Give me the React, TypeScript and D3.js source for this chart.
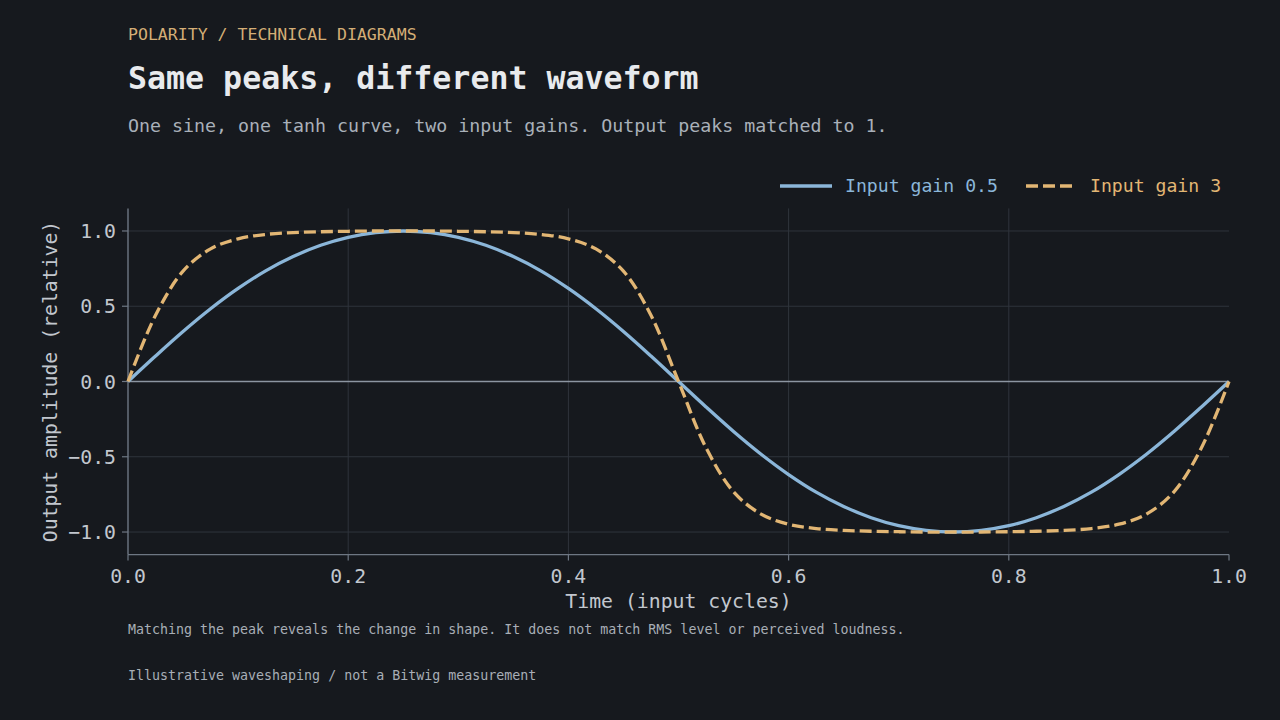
import React from "react";
import * as d3 from "d3";

// ---- data ----
const timeSteps = [
  0, 0.025, 0.05, 0.075, 0.1, 0.125, 0.15, 0.175, 0.2, 0.225, 0.25,
  0.275, 0.3, 0.325, 0.35, 0.375, 0.4, 0.425, 0.45, 0.475, 0.5,
  0.525, 0.55, 0.575, 0.6, 0.625, 0.65, 0.675, 0.7, 0.725, 0.75,
  0.775, 0.8, 0.825, 0.85, 0.875, 0.9, 0.925, 0.95, 0.975, 1.0,
];
const gainLowValues = [
  0, 0.169, 0.332, 0.483, 0.618, 0.735, 0.83, 0.905, 0.958, 0.989, 1.0,
  0.989, 0.958, 0.905, 0.83, 0.735, 0.618, 0.483, 0.332, 0.169, 0,
  -0.169, -0.332, -0.483, -0.618, -0.735, -0.83, -0.905, -0.958, -0.989, -1.0,
  -0.989, -0.958, -0.905, -0.83, -0.735, -0.618, -0.483, -0.332, -0.169, 0,
];
const gainHighValues = [
  0, 0.44, 0.733, 0.881, 0.948, 0.977, 0.989, 0.995, 0.998, 1.0, 1.0,
  1.0, 0.998, 0.995, 0.989, 0.977, 0.948, 0.881, 0.733, 0.44, 0,
  -0.44, -0.733, -0.881, -0.948, -0.977, -0.989, -0.995, -0.998, -1.0, -1.0,
  -1.0, -0.998, -0.995, -0.989, -0.977, -0.948, -0.881, -0.733, -0.44, 0,
];
const xTicks = [0, 0.2, 0.4, 0.6, 0.8, 1.0];
const yTicks = [1.0, 0.5, 0.0, -0.5, -1.0];
const seriesNames = ["Input gain 0.5", "Input gain 3"];

const MONO = "'DejaVu Sans Mono', monospace";
const BG = "#16191e";
const BLUE = "#8bb6d9";
const ORANGE = "#e2b674";
const GRID = "#2f343c";
const SPINE = "#6e7783";
const ZERO = "#8c95a1";
const TICKTXT = "#c2c7ce";

export default function App() {
  const left = 128, right = 1229, top = 208.4, bottom = 554.6;
  const x = d3.scaleLinear().domain([0, 1]).range([left, right]);
  const y = d3.scaleLinear().domain([-1.15, 1.15]).range([bottom, top]);

  const lineGen = d3
    .line<number>()
    .x((_, i) => x(timeSteps[i]))
    .y((v) => y(v))
    .curve(d3.curveCatmullRom.alpha(0.5));

  const fmt = (v: number) => (v < 0 ? "\u2212" + Math.abs(v).toFixed(1) : v.toFixed(1));

  return (
    <svg
      width={1280}
      height={720}
      style={{ position: "fixed", left: 0, top: 0, background: BG }}
      fontFamily={MONO}
    >
      <rect x={0} y={0} width={1280} height={720} fill={BG} />

      {/* header */}
      <text x={128} y={40} fontSize={16.55} fill="#d4ae76">
        POLARITY / TECHNICAL DIAGRAMS
      </text>
      <text x={128} y={89} fontSize={31.6} fontWeight="bold" fill="#e8eaed">
        Same peaks, different waveform
      </text>
      <text x={128} y={132} fontSize={18.3} fill="#a9b0b9">
        One sine, one tanh curve, two input gains. Output peaks matched to 1.
      </text>

      {/* legend */}
      <line x1={780} x2={832} y1={186} y2={186} stroke={BLUE} strokeWidth={3.3} />
      <text x={845} y={192} fontSize={18.15} fill={BLUE}>{seriesNames[0]}</text>
      <line x1={1026} x2={1076} y1={186} y2={186} stroke={ORANGE} strokeWidth={3.3} strokeDasharray="12 5" />
      <text x={1090} y={192} fontSize={18.15} fill={ORANGE}>{seriesNames[1]}</text>

      {/* grid */}
      {yTicks.filter((t) => t !== 0).map((t) => (
        <line key={"gy" + t} x1={left} x2={right} y1={y(t)} y2={y(t)} stroke={GRID} strokeWidth={1} />
      ))}
      {xTicks.filter((t) => t !== 0 && t !== 1).map((t) => (
        <line key={"gx" + t} x1={x(t)} x2={x(t)} y1={top} y2={bottom} stroke={GRID} strokeWidth={1} />
      ))}
      <line x1={left} x2={right} y1={y(0)} y2={y(0)} stroke={ZERO} strokeWidth={1.4} />

      {/* spines */}
      <line x1={left} x2={left} y1={top} y2={bottom} stroke={SPINE} strokeWidth={1.4} />
      <line x1={left} x2={right} y1={bottom} y2={bottom} stroke={SPINE} strokeWidth={1.4} />

      {/* y ticks */}
      {yTicks.map((t) => (
        <g key={"yt" + t}>
          <line x1={left - 6} x2={left} y1={y(t)} y2={y(t)} stroke={SPINE} strokeWidth={1.2} />
          <text x={left - 12} y={y(t) + 7.2} fontSize={19.8} textAnchor="end" fill={TICKTXT}>
            {fmt(t)}
          </text>
        </g>
      ))}
      {/* x ticks */}
      {xTicks.map((t) => (
        <g key={"xt" + t}>
          <line x1={x(t)} x2={x(t)} y1={bottom} y2={bottom + 6} stroke={SPINE} strokeWidth={1.2} />
          <text x={x(t)} y={582.7} fontSize={19.8} textAnchor="middle" fill={TICKTXT}>
            {fmt(t)}
          </text>
        </g>
      ))}

      {/* axis labels */}
      <text x={(left + right) / 2} y={607.8} fontSize={19.8} textAnchor="middle" fill={TICKTXT}>
        Time (input cycles)
      </text>
      <text
        transform={`translate(57,${(top + bottom) / 2}) rotate(-90)`}
        fontSize={19.8}
        textAnchor="middle"
        fill={TICKTXT}
      >
        Output amplitude (relative)
      </text>

      {/* series */}
      <path d={lineGen(gainLowValues) || ""} fill="none" stroke={BLUE} strokeWidth={3.3} />
      <path
        d={lineGen(gainHighValues) || ""}
        fill="none"
        stroke={ORANGE}
        strokeWidth={3.3}
        strokeDasharray="12 5"
      />

      {/* footer */}
      <text x={128} y={633.7} fontSize={13.3} fill="#a8aeb6">
        Matching the peak reveals the change in shape. It does not match RMS level or perceived loudness.
      </text>
      <text x={128} y={680} fontSize={13.3} fill="#a8aeb6">
        Illustrative waveshaping / not a Bitwig measurement
      </text>
    </svg>
  );
}
